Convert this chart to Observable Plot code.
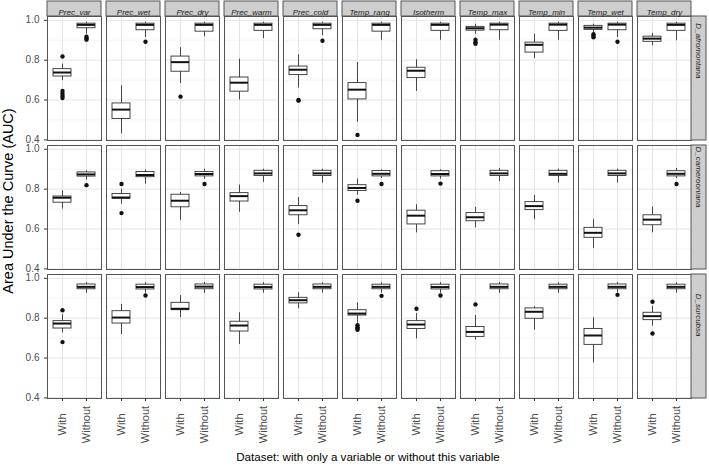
<!DOCTYPE html>
<html><head><meta charset="utf-8">
<script src="https://cdn.jsdelivr.net/npm/d3@7"></script>
<script src="https://cdn.jsdelivr.net/npm/@observablehq/plot@0.6"></script>
<style>
body{margin:0;background:#fff;font-family:"Liberation Sans",Arial,sans-serif;}
#wrap{position:relative;width:709px;height:466px;overflow:hidden;}
#wrap svg{display:block;}
.ttl{position:absolute;color:#000;white-space:nowrap;text-align:center;}
#ytitle{left:-142px;top:193px;width:300px;line-height:16px;font-size:14.5px;transform:rotate(-90deg);}
#xtitle{left:118px;top:450px;width:500px;line-height:14px;font-size:11.6px;}
</style>
</head><body><div id="wrap"></div>
<script>
const variables = ["Prec_var","Prec_wet","Prec_dry","Prec_warm","Prec_cold","Temp_rang","Isotherm","Temp_max","Temp_min","Temp_wet","Temp_dry"];
const species = ["D_afromontana","D_camerooniana","D_surcubsa"];
const datasets = ["With","Without"];
const majorTicks = [0.4,0.6,0.8,1.0];
const minorTicks = [0.5,0.7,0.9];

// [lower whisker, Q1, median, Q3, upper whisker], one per variable
const afromontanaWith = [
  [0.697,0.718,0.738,0.755,0.780],[0.430,0.505,0.552,0.583,0.672],[0.683,0.742,0.790,0.818,0.863],
  [0.600,0.642,0.687,0.713,0.805],[0.660,0.725,0.752,0.768,0.827],[0.488,0.603,0.652,0.685,0.788],
  [0.643,0.710,0.747,0.762,0.802],[0.930,0.948,0.960,0.967,0.980],[0.808,0.838,0.877,0.888,0.930],
  [0.938,0.952,0.963,0.972,0.980],[0.872,0.892,0.908,0.918,0.935]];
const afromontanaWithout = [
  [0.930,0.960,0.977,0.983,0.990],[0.913,0.950,0.977,0.983,0.990],[0.917,0.943,0.977,0.983,0.990],
  [0.908,0.947,0.977,0.983,0.990],[0.922,0.955,0.977,0.983,0.990],[0.900,0.943,0.977,0.983,0.990],
  [0.900,0.947,0.977,0.983,0.990],[0.900,0.950,0.978,0.983,0.990],[0.900,0.947,0.978,0.983,0.990],
  [0.913,0.950,0.978,0.983,0.990],[0.897,0.947,0.977,0.983,0.990]];
const cameroonianaWith = [
  [0.700,0.732,0.757,0.763,0.792],[0.725,0.752,0.758,0.776,0.800],[0.644,0.709,0.742,0.772,0.783],
  [0.684,0.738,0.765,0.780,0.820],[0.622,0.669,0.694,0.715,0.758],[0.770,0.791,0.806,0.820,0.851],
  [0.581,0.623,0.667,0.692,0.722],[0.606,0.639,0.659,0.680,0.709],[0.647,0.695,0.715,0.735,0.768],
  [0.502,0.556,0.581,0.606,0.647],[0.581,0.619,0.647,0.669,0.710]];
const cameroonianaWithout = [
  [0.846,0.863,0.874,0.884,0.892],[0.825,0.860,0.871,0.886,0.896],[0.850,0.864,0.876,0.886,0.900],
  [0.834,0.866,0.879,0.892,0.900],[0.830,0.866,0.879,0.892,0.900],[0.854,0.864,0.877,0.891,0.897],
  [0.850,0.864,0.876,0.890,0.897],[0.838,0.866,0.879,0.892,0.904],[0.830,0.866,0.877,0.892,0.900],
  [0.830,0.866,0.879,0.892,0.900],[0.852,0.864,0.877,0.890,0.904]];
const surcubsaWith = [
  [0.726,0.748,0.773,0.785,0.818],[0.718,0.773,0.803,0.835,0.869],[0.802,0.840,0.847,0.877,0.914],
  [0.668,0.733,0.763,0.782,0.827],[0.847,0.874,0.890,0.902,0.927],[0.775,0.813,0.823,0.840,0.877],
  [0.696,0.746,0.768,0.785,0.823],[0.690,0.706,0.731,0.756,0.813],[0.740,0.797,0.832,0.849,0.857],
  [0.576,0.666,0.713,0.746,0.802],[0.760,0.790,0.810,0.827,0.860]];
const surcubsaWithout = [
  [0.925,0.945,0.957,0.969,0.978],[0.925,0.944,0.956,0.968,0.978],[0.924,0.945,0.958,0.969,0.979],
  [0.925,0.944,0.956,0.968,0.978],[0.926,0.945,0.957,0.969,0.978],[0.925,0.945,0.957,0.968,0.978],
  [0.925,0.944,0.956,0.968,0.978],[0.924,0.945,0.957,0.969,0.979],[0.925,0.945,0.957,0.968,0.978],
  [0.926,0.945,0.957,0.969,0.979],[0.925,0.945,0.957,0.968,0.978]];

// outliers: [variable, dataset, value]
const afromontanaOutliers = [
  ["Prec_var","With",0.818],["Prec_var","With",0.645],["Prec_var","With",0.632],["Prec_var","With",0.620],["Prec_var","With",0.610],
  ["Prec_var","Without",0.918],["Prec_var","Without",0.910],["Prec_var","Without",0.903],
  ["Prec_wet","Without",0.892],["Prec_dry","With",0.617],["Prec_cold","With",0.600],["Prec_cold","With",0.597],
  ["Prec_cold","Without",0.897],["Temp_rang","With",0.425],
  ["Temp_max","With",0.903],["Temp_max","With",0.890],["Temp_max","With",0.882],
  ["Temp_wet","With",0.930],["Temp_wet","With",0.922],["Temp_wet","With",0.915],["Temp_wet","Without",0.892]];
const cameroonianaOutliers = [
  ["Prec_var","Without",0.820],["Prec_wet","With",0.826],["Prec_wet","With",0.680],["Prec_dry","Without",0.826],
  ["Prec_cold","With",0.571],["Temp_rang","With",0.742],["Temp_rang","Without",0.826],["Isotherm","Without",0.828],
  ["Temp_dry","Without",0.826]];
const surcubsaOutliers = [
  ["Prec_var","With",0.840],["Prec_var","With",0.680],["Prec_wet","Without",0.914],
  ["Temp_rang","With",0.765],["Temp_rang","With",0.755],["Temp_rang","With",0.748],["Temp_rang","With",0.742],
  ["Temp_rang","Without",0.912],["Isotherm","With",0.847],["Isotherm","Without",0.914],["Temp_max","With",0.869],
  ["Temp_wet","Without",0.917],["Temp_dry","With",0.882],["Temp_dry","With",0.723]];

const statSets = [
  [species[0], afromontanaWith, afromontanaWithout, afromontanaOutliers],
  [species[1], cameroonianaWith, cameroonianaWithout, cameroonianaOutliers],
  [species[2], surcubsaWith, surcubsaWithout, surcubsaOutliers]];
const boxes = [], outliers = [];
for (const [sp, w, wo, out] of statSets) {
  variables.forEach((v, i) => {
    for (const [ds, arr] of [["With", w], ["Without", wo]]) {
      const [lo, q1, med, q3, hi] = arr[i];
      boxes.push({species: sp, variable: v, dataset: ds, lo, q1, med, q3, hi});
    }
  });
  for (const [v, ds, val] of out) outliers.push({species: sp, variable: v, dataset: ds, value: val});
}

const yDomain = [0.397, 1.019];
const sw = 15; // strip thickness
const panelW = 54;

const plot = Plot.plot({
  width: 709, height: 466,
  marginLeft: 44, marginRight: 16, marginTop: 15, marginBottom: 67,
  style: {fontFamily: "'Liberation Sans', Arial, sans-serif", background: "white", overflow: "visible"},
  fx: {domain: variables, padding: 0.0924, axis: null, label: null},
  fy: {domain: species, padding: 0.0386, axis: null, label: null},
  x: {type: "band", domain: datasets, paddingInner: 0.25, paddingOuter: 0.225, label: null},
  y: {domain: yDomain, label: null},
  marks: [
    Plot.gridY(minorTicks, {stroke: "#f3f3f3", strokeOpacity: 1, strokeWidth: 0.8}),
    Plot.gridY(majorTicks, {stroke: "#e4e4e4", strokeOpacity: 1}),
    Plot.gridX(datasets, {stroke: "#e4e4e4", strokeOpacity: 1}),
    Plot.ruleX(boxes, {x: "dataset", y1: "lo", y2: "hi", fx: "variable", fy: "species", stroke: "#333", strokeWidth: 0.9}),
    Plot.barY(boxes, {x: "dataset", y1: "q1", y2: "q3", fx: "variable", fy: "species", fill: "white", stroke: "#333", strokeWidth: 0.9}),
    Plot.tickY(boxes, {x: "dataset", y: "med", fx: "variable", fy: "species", stroke: "#111", strokeWidth: 2}),
    Plot.dot(outliers, {x: "dataset", y: "value", fx: "variable", fy: "species", r: 2.2, fill: "#111", stroke: null}),
    Plot.frame({stroke: "#555", strokeWidth: 1}),
    // top strips
    Plot.rect(variables, {fx: d => d, fy: () => species[0], y1: () => yDomain[1], y2: () => yDomain[1], insetTop: -sw, fill: "#cecece", stroke: "#555", strokeWidth: 1}),
    Plot.text(variables, {fx: d => d, fy: () => species[0], text: d => d, frameAnchor: "top", dy: -sw / 2, fontStyle: "italic", fontSize: 8, fill: "#1a1a1a"}),
    // right strips
    Plot.rect(species, {fy: d => d, fx: () => variables[variables.length - 1], insetLeft: panelW, insetRight: -sw, fill: "#cecece", stroke: "#555", strokeWidth: 1}),
    Plot.text(species, {fy: d => d, fx: () => variables[variables.length - 1], text: d => d, frameAnchor: "right", dx: sw / 2, rotate: 90, fontStyle: "italic", fontSize: 8, fill: "#1a1a1a"}),
    Plot.axisY({ticks: majorTicks, tickFormat: ".1f", tickSize: 3, tickPadding: 5, fontSize: 10, fill: "#4d4d4d", stroke: "#333", label: null}),
    Plot.axisX({tickRotate: -90, textAnchor: "middle", tickSize: 3, tickPadding: 23, fontSize: 11, fill: "#4d4d4d", stroke: "#333", label: null})
  ]
});

const wrap = document.getElementById("wrap");
wrap.appendChild(plot);
const yt = document.createElement("div");
yt.className = "ttl"; yt.id = "ytitle"; yt.textContent = "Area Under the Curve (AUC)";
const xt = document.createElement("div");
xt.className = "ttl"; xt.id = "xtitle"; xt.textContent = "Dataset: with only a variable or without this variable";
wrap.appendChild(yt); wrap.appendChild(xt);
</script>
</body></html>
